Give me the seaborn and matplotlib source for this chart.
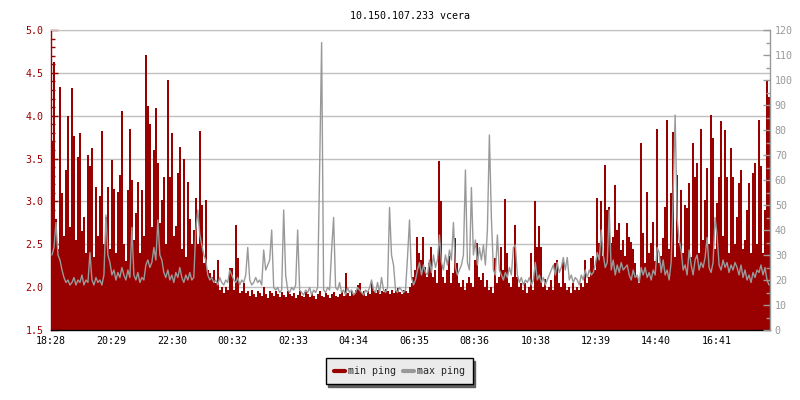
import numpy as np
import pandas as pd
import matplotlib
matplotlib.use("Agg")
import matplotlib.pyplot as plt
from matplotlib.lines import Line2D
from matplotlib.ticker import MultipleLocator, FormatStrFormatter
import seaborn as sns

# ---------------- data ----------------
title = "10.150.107.233 vcera"
series_names = ["min ping", "max ping"]
x_tick_labels = ["18:28", "20:29", "22:30", "00:32", "02:33", "04:34",
                 "06:35", "08:36", "10:38", "12:39", "14:40", "16:41"]
start_label = "18:28"
span_minutes = 1440
step_minutes = 4

# min ping (left axis, ms), one value per 4 minutes
min_ping = [
    # 18:28 - 23:14
    3.70, 4.63, 2.80, 2.45, 4.34, 3.10, 2.60, 3.37, 4.00, 2.70,
    4.32, 3.76, 2.55, 3.52, 3.80, 2.65, 2.82, 2.40, 3.54, 3.41,
    3.62, 2.35, 3.17, 2.60, 3.06, 3.82, 2.50, 2.82, 3.17, 2.45,
    3.48, 3.15, 2.40, 3.11, 3.31, 4.06, 2.50, 2.30, 3.13, 3.84,
    3.25, 2.55, 2.86, 3.23, 2.40, 3.13, 2.60, 4.71, 4.11, 3.90,
    2.70, 3.60, 4.09, 3.45, 2.75, 3.02, 3.29, 2.50, 4.42, 3.29,
    3.80, 2.60, 2.71, 3.33, 3.64, 2.45, 3.50, 2.35, 3.23, 2.80,
    2.50, 2.67,
    # 23:16 - 04:02
    3.04, 2.50, 3.82, 2.96, 2.28, 3.02, 2.20, 2.16, 2.12, 2.20,
    2.05, 2.32, 1.97, 2.00, 1.93, 2.00, 1.97, 2.22, 2.22, 1.97,
    2.73, 2.34, 1.93, 1.95, 2.05, 1.93, 1.95, 1.90, 1.97, 1.92,
    1.88, 1.95, 1.93, 1.90, 2.00, 1.92, 1.87, 1.95, 1.93, 1.90,
    1.96, 1.92, 1.89, 1.94, 1.91, 1.88, 1.95, 1.92, 1.90, 1.93,
    1.87, 1.91, 1.95, 1.90, 1.88, 1.94, 1.92, 1.89, 1.93, 1.90,
    1.86, 1.92, 1.95, 1.90, 1.88, 1.93, 1.91, 1.87, 1.92, 1.94,
    1.90, 1.88,
    # 04:04 - 08:50
    1.92, 1.95, 1.90, 2.16, 1.93, 1.90, 1.95, 1.92, 1.97, 2.02,
    2.05, 1.93, 1.95, 1.90, 1.96, 1.92, 2.05, 1.95, 1.93, 1.97,
    1.92, 1.96, 1.94, 1.98, 1.95, 1.92, 1.97, 1.93, 1.96, 1.99,
    1.94, 1.92, 1.97, 1.95, 1.93, 2.00, 2.05, 2.12, 2.20, 2.59,
    2.40, 2.32, 2.59, 2.24, 2.12, 2.28, 2.47, 2.12, 2.20, 2.05,
    3.47, 3.00, 2.12, 2.05, 2.20, 2.36, 2.05, 2.16, 2.57, 2.28,
    2.05, 2.00, 2.08, 1.97, 2.05, 2.12, 2.05, 2.00, 2.32, 2.51,
    2.12, 2.08,
    # 08:52 - 13:38
    2.16, 2.00, 2.08, 1.97, 2.00, 1.93, 2.34, 2.05, 2.12, 2.47,
    2.20, 3.03, 2.40, 2.05, 2.00, 2.12, 2.73, 2.12, 2.00, 2.05,
    1.97, 2.05, 1.93, 2.00, 2.40, 1.97, 3.00, 2.47, 2.71, 2.47,
    2.00, 2.10, 1.97, 2.00, 2.08, 1.97, 2.28, 2.32, 2.05, 2.00,
    2.32, 2.05, 1.97, 2.00, 1.93, 2.05, 1.97, 2.00, 1.97, 2.05,
    2.00, 2.32, 2.05, 2.12, 2.34, 2.36, 2.20, 3.04, 2.51, 3.00,
    2.36, 3.43, 2.90, 2.94, 2.51, 2.59, 3.19, 2.67, 2.75, 2.43,
    2.55, 2.36,
    # 13:40 - 18:26
    2.75, 2.59, 2.53, 2.45, 2.28, 2.12, 2.05, 3.68, 2.63, 2.28,
    3.11, 2.40, 2.51, 2.76, 2.30, 3.85, 2.28, 2.36, 2.57, 2.94,
    3.95, 2.45, 3.10, 3.81, 2.35, 3.31, 2.51, 3.13, 2.40, 2.96,
    2.92, 3.21, 2.35, 3.68, 3.29, 3.45, 2.40, 3.85, 2.55, 3.02,
    3.39, 2.50, 4.01, 3.74, 2.45, 2.98, 3.29, 3.94, 2.60, 3.83,
    3.29, 2.40, 3.62, 3.29, 2.50, 2.82, 3.21, 3.37, 2.45, 2.55,
    2.90, 3.21, 2.40, 3.33, 3.45, 2.50, 3.95, 3.41, 2.40, 2.90,
    4.42, 4.22,
]

# max ping (right axis, ms), one value per 4 minutes
max_ping = [
    30, 33, 43, 30, 28, 24, 21, 19, 20, 18,
    19, 21, 18, 20, 19, 22, 18, 20, 19, 31,
    20, 18, 21, 19, 20, 18, 22, 46, 30, 27,
    22, 24, 20, 23, 21, 25, 22, 20, 24, 21,
    41, 22, 20, 23, 19, 21, 20, 26, 28, 25,
    27, 33, 28, 44, 30, 28, 23, 21, 24, 20,
    22, 19, 23, 21, 25, 21, 19, 22, 20, 23,
    20, 21,
    40, 48, 38, 34, 30, 28, 22, 20, 21, 19,
    20, 18, 21, 19, 18, 20, 19, 24, 22, 20,
    19, 21, 18, 20, 19, 22, 33, 20, 18, 19,
    21, 19, 20, 18, 32, 24, 26, 28, 40, 17,
    16, 17, 15, 16, 48, 22, 16, 15, 17, 16,
    18, 40, 16, 15, 14, 16, 15, 17, 14, 16,
    15, 17, 64, 115, 16, 15, 17, 16, 32, 45,
    17, 16,
    19, 15, 16, 14, 17, 15, 16, 14, 15, 17,
    16, 15, 14, 16, 15, 17, 20, 16, 15, 19,
    15, 21, 16, 15, 17, 49, 30, 26, 16, 15,
    17, 16, 15, 16, 29, 44, 21, 18, 20, 24,
    27, 22, 26, 23, 22, 28, 23, 30, 25, 28,
    38, 27, 24, 30, 26, 32, 28, 43, 25, 22,
    24, 26, 30, 64, 27, 24, 57, 30, 36, 26,
    33, 28,
    34, 26, 40, 78, 45, 24, 22, 38, 24, 22,
    20, 23, 21, 25, 22, 33, 34, 22, 19, 21,
    18, 20, 19, 21, 18, 20, 27, 20, 22, 19,
    21, 18, 20, 22, 24, 26, 22, 27, 23, 25,
    29, 24, 29, 20, 22, 19, 21, 20, 18, 22,
    20, 24, 21, 24, 22, 23, 26, 31, 28, 40,
    30, 25, 27, 48, 24, 28, 22, 26, 23, 27,
    24, 25,
    26, 22, 20, 24, 21, 22, 19, 25, 22, 25,
    21, 23, 20, 24, 22, 33, 31, 23, 28, 22,
    24, 20, 27, 54, 86, 45, 36, 32, 24, 26,
    22, 32, 26, 22, 28, 30, 24, 27, 25, 29,
    37, 25, 23, 27, 45, 38, 26, 24, 28, 25,
    27, 23, 26, 24, 27, 25, 22, 26, 21, 24,
    20, 22, 19, 23, 21, 24, 23, 26, 22, 25,
    20, 18,
]

# ---------------- style ----------------
RED = "#990000"
GRAY = "#999999"
GRID = "#c0c0c0"
FS = 7.2

sns.set_style("white")
plt.rcParams["font.family"] = ["DejaVu Sans Mono", "DejaVu Sans"]

n = len(min_ping)
t_mid = np.arange(n) * step_minutes + step_minutes / 2.0
df = pd.DataFrame({"t": t_mid, "min": min_ping, "max": max_ping})


def to_min(lbl):
    h, m = map(int, lbl.split(":"))
    sh, sm = map(int, start_label.split(":"))
    return ((h * 60 + m) - (sh * 60 + sm)) % 1440


tick_pos = [to_min(l) for l in x_tick_labels]

fig = plt.figure(figsize=(8, 4), dpi=100)
ax = fig.add_axes([51 / 800, 70 / 400, 719 / 800, 300 / 400])

sns.barplot(data=df, x="t", y="min", native_scale=True, width=1.0,
            color=RED, saturation=1, linewidth=0, errorbar=None, ax=ax)
for p in ax.patches:
    p.set_antialiased(False)

ax.set_xlim(0, span_minutes)
ax.set_ylim(1.5, 5.0)
ax.set_xlabel("")
ax.set_ylabel("")
ax.yaxis.set_major_locator(MultipleLocator(0.5))
ax.yaxis.set_minor_locator(MultipleLocator(0.1))
ax.yaxis.set_major_formatter(FormatStrFormatter("%.1f"))
ax.yaxis.grid(True, which="major", color=GRID, lw=1)
ax.set_axisbelow(True)
ax.set_xticks(tick_pos)
ax.set_xticklabels(x_tick_labels)
ax.tick_params(axis="y", which="major", direction="in", length=5, width=1,
               colors=RED, labelsize=FS, pad=5.5)
ax.tick_params(axis="y", which="minor", direction="in", length=3, width=1,
               colors=RED)
ax.tick_params(axis="x", which="major", direction="in", length=5, width=1,
               colors="black", labelsize=FS, pad=4)
ax.spines["left"].set_color(RED)
ax.spines["left"].set_linewidth(1)
ax.spines["bottom"].set_color("black")
ax.spines["bottom"].set_linewidth(1)
ax.spines["top"].set_color(GRID)
ax.spines["right"].set_visible(False)

ax2 = ax.twinx()
sns.lineplot(data=df, x="t", y="max", color=GRAY, lw=1.0,
             errorbar=None, legend=False, ax=ax2)
ax2.set_ylim(0, 120)
ax2.set_xlim(0, span_minutes)
ax2.set_ylabel("")
ax2.set_xlabel("")
ax2.yaxis.set_major_locator(MultipleLocator(10))
ax2.yaxis.set_minor_locator(MultipleLocator(5))
ax2.tick_params(axis="y", which="major", direction="in", length=5, width=1,
                colors=GRAY, labelsize=FS, pad=3.5)
ax2.tick_params(axis="y", which="minor", direction="in", length=3, width=1,
                colors=GRAY)
for s in ["left", "top", "bottom"]:
    ax2.spines[s].set_visible(False)
ax2.spines["right"].set_color(GRAY)
ax2.spines["right"].set_linewidth(1)

ax.set_title(title, fontsize=FS, pad=8, color="black")

handles = [Line2D([], [], color=RED, lw=3), Line2D([], [], color=GRAY, lw=3)]
fig.legend(handles, series_names, loc="center", bbox_to_anchor=(0.499, 0.0725),
           ncol=2, fontsize=FS, frameon=True, fancybox=False,
           edgecolor="black", facecolor="#ebebeb", framealpha=1,
           shadow={"color": "#606060", "alpha": 1},
           handlelength=1.1, handletextpad=0.3, columnspacing=0.7,
           borderpad=0.8)

fig.savefig("out.png", dpi=100)
